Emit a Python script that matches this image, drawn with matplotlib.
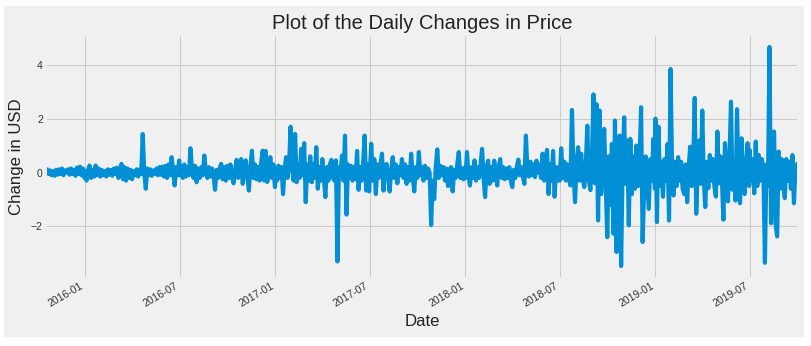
import matplotlib
matplotlib.use("Agg")
import matplotlib.pyplot as plt
import matplotlib.dates as mdates
from matplotlib.patches import Rectangle
import numpy as np
import pandas as pd

# daily price changes (USD)
seg_starts = ["2015-10-20", "2016-01-01", "2016-07-01", "2017-01-01", "2017-07-01",
              "2018-01-01", "2018-07-01", "2019-01-01", "2019-07-01"]
seg_ends = ["2015-12-31", "2016-06-30", "2016-12-31", "2017-06-30", "2017-12-31",
            "2018-06-30", "2018-12-31", "2019-06-30", "2019-09-30"]

chg_2015h2 = [0.1, -0.05, 0.08, -0.1, 0.05, -0.12, 0.1, -0.08, 0.12, -0.05, 0.15, -0.1, 0.08,
              0.0, 0.12, -0.08, 0.15, -0.05, 0.1, -0.12, 0.18, -0.05, 0.22, -0.1, 0.15, -0.2]
chg_2016h1 = [0.05, -0.3, 0.1, 0.26, -0.2, 0.1, -0.15, 0.26, -0.1, 0.15, -0.15, 0.1, -0.1,
              0.05, -0.15, 0.12, -0.08, 0.1, -0.12, 0.15, -0.05, 0.18, -0.2, 0.1, 0.32, -0.25,
              0.2, -0.3, 0.15, -0.2, 0.1, -0.25, 0.05, -0.1, 0.12, -0.15, 0.1, -0.05, 1.43,
              0.0, -0.6, 0.15, -0.1, 0.12, -0.12, 0.08, -0.05, 0.15, -0.1, 0.2, -0.08, 0.22,
              -0.15, 0.25, -0.2, 0.3, -0.1, 0.57, 0.1, -0.48, 0.2, -0.1, 0.45]
chg_2016h2 = [-0.1, 0.25, -0.2, 0.3, -0.15, 0.2, -0.1, 0.9, 0.1, -0.2, 0.25, -0.36, 0.15,
              -0.2, 0.2, -0.1, 0.63, 0.05, -0.2, 0.2, -0.15, 0.15, -0.1, -0.64, 0.1, -0.2,
              0.15, 0.32, -0.25, 0.2, -0.3, 0.25, -0.2, 0.3, -0.15, -0.4, 0.1, 0.47, -0.2,
              0.3, 0.5, -0.42, 0.1, 0.45, -0.1, -0.67, 0.2, 0.81, -0.2, 0.3, -0.25, 0.2,
              -0.3, 0.35, 0.81, -0.3, 0.8, -0.35, 0.2, 0.57, -0.2, 0.3, -0.54]
chg_2017h1 = [0.1, -0.3, 0.25, -0.2, 0.2, -0.8, 0.1, 0.57, -0.2, 0.3, 1.7, 0.2, -0.3, 1.43,
              -0.36, 0.3, -0.2, 0.88, -0.1, 1.09, -1.1, 0.3, -0.3, 0.6, -0.36, 0.3, -0.2,
              0.94, -0.6, 0.2, -0.3, 0.5, -0.2, -0.91, 0.2, -0.3, 0.3, 0.47, -0.2, -0.3,
              0.45, -3.3, 0.2, -0.1, 0.63, -0.3, 1.37, -1.56, 0.3, -0.2, 0.25, -0.3, 0.2,
              -0.25, 0.8, -0.64, 0.2, -0.3, 0.35, 1.37, -0.67, 0.3, -0.7]
chg_2017h2 = [-0.2, 1.07, -0.3, 0.5, -0.8, 0.3, -0.2, 0.3, 0.7, -0.67, 0.2, 0.32, -0.2,
              -0.7, 0.1, 0.57, -0.2, 0.3, -0.4, 0.2, -0.1, 0.5, -0.2, 0.3, -0.42, 0.2, -0.3,
              0.7, -0.1, -0.7, 0.2, -0.2, 0.76, -0.1, 0.2, -0.3, 0.25, -0.2, 0.15, 0.0,
              -1.95, -0.3, -0.99, 0.2, 0.86, -0.2, 0.25, -0.1, 0.2, -0.3, 0.15, -0.5, 0.1,
              0.2, -0.7, 0.1, -0.2, 0.3, 0.76, -0.2, 0.15, -0.25, 0.2]
chg_2018h1 = [-0.2, 0.76, -0.1, -0.48, 0.2, -0.2, 0.45, -0.3, 0.2, -0.2, 0.3, 0.88, -0.2,
              -0.91, 0.2, 0.44, -0.42, 0.2, -0.3, 0.44, 0.1, -0.48, 0.2, 0.5, -0.2, 0.2,
              -0.25, 0.15, -0.2, 0.2, -0.3, -0.54, 0.1, -0.2, 0.2, 0.48, -0.1, 0.2, -0.15,
              -0.42, 1.37, 0.1, -0.15, 0.4, -0.1, 0.3, -0.17, 0.44, 0.0, 0.3, -0.2, 0.7,
              -0.3, 0.4, 0.84, -0.8, 0.3, -0.3, 0.8, -0.9, 0.2, -0.3, 0.2]
chg_2018h2 = [-0.3, 0.9, -0.2, 0.4, -0.3, 0.3, -0.2, -0.48, 2.32, 0.1, -1.1, 0.3, 0.94,
              -0.3, 0.7, -0.2, -0.54, 0.3, 1.74, -0.3, -0.65, 0.5, 2.9, -0.4, 2.54, -1.78,
              2.3, -0.8, 0.5, 1.62, -0.5, -2.4, 0.6, -1.2, 1.06, -2.27, 1.93, -2.95, 0.5,
              1.37, -3.47, 0.3, 2.05, -0.42, 1.19, -1.96, 1.25, -0.8, 0.6, -0.6, 1.0, -0.5,
              0.4, 2.42, -2.58, -0.55, 0.6, -0.4, -1.35, 0.5, -0.3, 1.25, -0.6]
chg_2019h1 = [2.0, -1.84, 1.7, -0.5, 0.4, -0.9, 0.5, -0.3, 1.06, -1.78, 3.84, 0.2, -0.85,
              0.4, -0.5, 0.57, -0.3, 0.4, -0.6, -0.8, 0.3, -1.1, 0.2, 0.96, -0.5, 0.3, 2.77,
              -1.53, 0.2, 1.19, -0.42, 2.3, -0.3, -1.28, 0.4, -0.58, 0.65, -0.3, 0.5, -0.5,
              -0.89, 1.52, -0.4, 0.6, -0.3, -1.75, 1.09, 0.2, -1.07, 0.5, 2.63, -0.64, 0.3,
              -1.04, 2.35, -0.3, -1.14, 1.27, -0.4, -0.8, 0.4, 1.09, -0.5]
chg_2019h2 = [0.84, -0.3, 0.5, -0.77, 1.15, -0.5, 0.65, -0.3, 0.5, 0.1, -3.35, 0.3, -0.5,
              4.66, -1.88, 0.6, 1.52, -1.94, -2.37, 0.78, -0.6, 0.5, -0.4, -0.95, 0.5, -0.3,
              0.4, -0.6, 0.65, -1.14, 0.2, 0.3]

segments = [chg_2015h2, chg_2016h1, chg_2016h2, chg_2017h1, chg_2017h2,
            chg_2018h1, chg_2018h2, chg_2019h1, chg_2019h2]

idx = []
for start, end, vals in zip(seg_starts, seg_ends, segments):
    idx.append(pd.date_range(start, end, periods=len(vals)))
dates = pd.DatetimeIndex(np.concatenate([d.values for d in idx]))
change = pd.Series(np.concatenate(segments), index=dates)

plt.rcParams["font.family"] = ["Liberation Sans", "DejaVu Sans"]

W, H = 812, 346
fig = plt.figure(figsize=(W / 100, H / 100), dpi=100, facecolor="white")
fig.patches.append(Rectangle((4 / W, 9 / H), 800 / W, 331 / H, transform=fig.transFigure,
                             facecolor="#f0f0f0", edgecolor="none", zorder=-10))

ax = fig.add_axes([47 / W, (H - 277) / H, 750 / W, 241 / H])
ax.set_facecolor("#f0f0f0")
ax.plot(change.index, change.values, color="#008fd5", linewidth=3.0)
ax.set_xlim(change.index[0], change.index[-1])

ax.xaxis.set_major_locator(mdates.MonthLocator(bymonth=[1, 7]))
ax.xaxis.set_major_formatter(mdates.DateFormatter("%Y-%m"))
ax.set_yticks([-2, 0, 2, 4])
ax.grid(True, color="#cbcbcb", linewidth=0.75)
ax.set_axisbelow(True)
for s in ax.spines.values():
    s.set_visible(False)
ax.tick_params(length=0, labelsize=7.5, colors="#333333", pad=3)
for lbl in ax.get_xticklabels():
    lbl.set_rotation(30)
    lbl.set_ha("right")

ax.set_title("Plot of the Daily Changes in Price", fontsize=14.5, color="#222222", pad=5)
ax.set_xlabel("Date", fontsize=12.1, color="#222222")
ax.set_ylabel("Change in USD", fontsize=12.1, color="#222222")
ax.xaxis.set_label_coords(0.5, -0.155)
ax.yaxis.set_label_coords(-0.031, 0.5)

fig.savefig("out.png", dpi=100, facecolor="white")
